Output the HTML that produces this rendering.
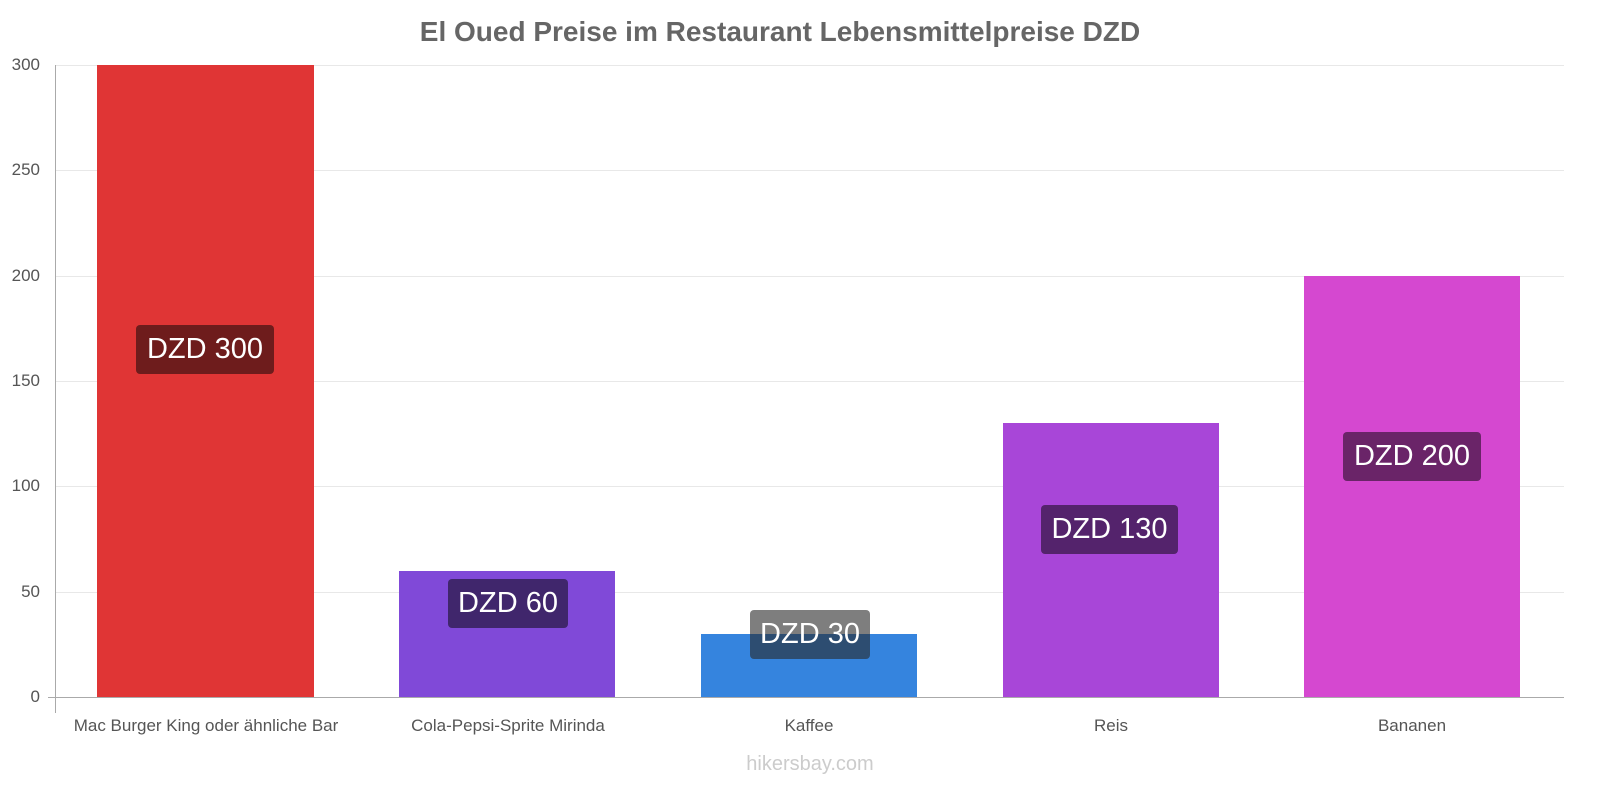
<!DOCTYPE html>
<html><head><style>
body{margin:0;width:1600px;height:800px;background:#fff;font-family:"Liberation Sans",sans-serif;position:relative;overflow:hidden}
.t{position:absolute;white-space:nowrap}
.bar{position:absolute}
.lab{position:absolute;color:#fff;font-size:29px;line-height:49px;text-align:center;border-radius:4px}
.g{position:absolute;left:56px;width:1508px;height:1px;background:#e8e8e8}
.yl{position:absolute;width:40px;text-align:right;left:0;font-size:17px;color:#555}
.xl{position:absolute;width:300px;text-align:center;font-size:17px;color:#555;top:716px}
</style></head><body>
<div class="t" style="left:0;width:1560px;text-align:center;top:16px;font-size:28px;font-weight:bold;color:#666">El Oued Preise im Restaurant Lebensmittelpreise DZD</div>
<div class="g" style="top:65px"></div><div class="g" style="top:170px"></div><div class="g" style="top:276px"></div><div class="g" style="top:381px"></div><div class="g" style="top:486px"></div><div class="g" style="top:592px"></div>
<div class="yl" style="top:55px">300</div><div class="yl" style="top:160px">250</div><div class="yl" style="top:266px">200</div><div class="yl" style="top:371px">150</div><div class="yl" style="top:476px">100</div><div class="yl" style="top:582px">50</div><div class="yl" style="top:687px">0</div>
<div style="position:absolute;left:55px;top:65px;width:1px;height:648px;background:#aaa"></div>
<div style="position:absolute;left:48px;top:697px;width:1516px;height:1px;background:#aaa"></div>
<div class="bar" style="left:97px;top:65px;width:217px;height:632px;background:#e03535"></div>
<div class="bar" style="left:399px;top:571px;width:216px;height:126px;background:#8049d8"></div>
<div class="bar" style="left:701px;top:634px;width:216px;height:63px;background:#3584de"></div>
<div class="bar" style="left:1003px;top:423px;width:216px;height:274px;background:#a846d8"></div>
<div class="bar" style="left:1304px;top:276px;width:216px;height:421px;background:#d548d0"></div>
<div class="lab" style="left:136px;top:325px;width:138px;background:#6e1c1c">DZD 300</div>
<div class="lab" style="left:448px;top:579px;width:120px;background:#40266c">DZD 60</div>
<div class="lab" style="left:750px;top:610px;width:120px;background:rgba(40,40,40,0.6)">DZD 30</div>
<div class="lab" style="left:1041px;top:505px;width:137px;background:#54236c">DZD 130</div>
<div class="lab" style="left:1343px;top:432px;width:138px;background:#6a2468">DZD 200</div>
<div class="xl" style="left:56px">Mac Burger King oder ähnliche Bar</div>
<div class="xl" style="left:358px">Cola-Pepsi-Sprite Mirinda</div>
<div class="xl" style="left:659px">Kaffee</div>
<div class="xl" style="left:961px">Reis</div>
<div class="xl" style="left:1262px">Bananen</div>
<div class="t" style="left:0;width:1620px;text-align:center;top:753px;font-size:20px;color:#ccc">hikersbay.com</div>
</body></html>
